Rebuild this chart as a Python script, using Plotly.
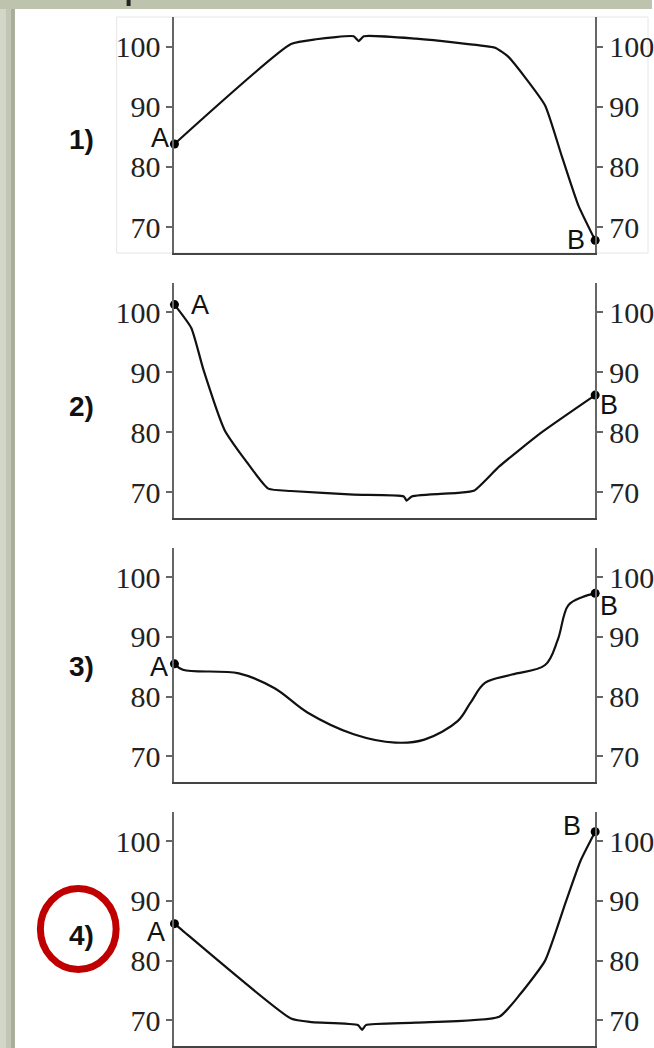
import plotly.graph_objects as go

# ---------------- data (position along profile in %, value) ----------------
p1_x = [0, 27.7, 33.7, 42.6, 43.8, 45.0, 57.4, 67.3, 76.2, 79.2, 83.2, 88.1, 92.1, 96.0, 100]
p1_y = [83.8, 100.4, 101.2, 101.7, 100.9, 101.7, 101.3, 100.6, 99.8, 98.4, 95.0, 90.2, 81.7, 73.6, 67.8]

p2_x = [0, 4.0, 6.9, 11.9, 16.8, 22.3, 27.7, 42.6, 54.5, 55.2, 56.4, 67.3, 71.3, 77.2, 87.1, 100]
p2_y = [101.3, 97.4, 90.4, 80.4, 75.4, 70.6, 70.2, 69.6, 69.3, 68.6, 69.3, 69.9, 70.3, 74.3, 79.9, 86.2]

p3_x = [0, 2.0, 15.3, 23.8, 31.7, 42.6, 52.5, 59.4, 67.3, 70.3, 73.8, 80.2, 88.1, 91.1, 93.6, 97.0, 100]
p3_y = [85.5, 84.5, 83.9, 81.4, 77.3, 73.7, 72.3, 72.8, 75.9, 78.9, 82.3, 83.7, 85.3, 89.5, 95.3, 96.7, 97.3]

p4_x = [0, 2.0, 27.7, 32.7, 43.6, 44.6, 45.5, 57.4, 77.2, 82.2, 88.1, 93.1, 96.5, 100]
p4_y = [86.2, 85.0, 70.3, 69.7, 69.2, 68.4, 69.2, 69.6, 70.6, 74.4, 80.0, 90.0, 96.7, 101.6]

panel_labels = ["1)", "2)", "3)", "4)"]
end_labels = ["A", "B"]
tick_vals = [70, 80, 90, 100]
y_range = [65.7, 104.9]

xs = [p1_x, p2_x, p3_x, p4_x]
ys = [p1_y, p2_y, p3_y, p4_y]

# ---------------- layout helpers ----------------
W, H = 654, 1048
def fx(p):
    return p / W
def fy(p):
    return 1 - p / H

panel_px = [(17, 253), (283, 518), (548, 782), (812, 1046)]
label_py = [139, 407, 666, 935]
x_dom = [fx(175), fx(597)]
smooth = [0.5, 0.5, 1.0, 0.5]

# A / B label placement: (xanchor, xshift, yshift)
a_pos = [("right", -3, 6), ("left", 15, 0), ("right", -4, -3), ("right", -7, -8)]
b_pos = [("right", -8, 0), ("left", 3, -10), ("left", 3, -13), ("right", -12, 6)]

tick_font = dict(family="Liberation Serif", size=30, color="#222")
txt_font = dict(family="Liberation Sans", size=27, color="#111")

fig = go.Figure()
layout = {}
annotations = []

for i in range(4):
    xa = "x" if i == 0 else f"x{i+1}"
    ya = "y" if i == 0 else f"y{i+1}"
    yr = f"y{i+5}"
    top, bot = panel_px[i]
    dom = [fy(bot), fy(top)]

    fig.add_trace(go.Scatter(
        x=xs[i], y=ys[i], xaxis=xa, yaxis=ya, mode="lines",
        line=dict(color="#111", width=2.2, shape="spline", smoothing=smooth[i]),
        hoverinfo="skip"))
    fig.add_trace(go.Scatter(
        x=[xs[i][0], xs[i][-1]], y=[ys[i][0], ys[i][-1]], xaxis=xa, yaxis=yr,
        mode="markers", marker=dict(size=9, color="#000"), cliponaxis=False,
        hoverinfo="skip"))

    xkey = "xaxis" if i == 0 else f"xaxis{i+1}"
    ykey = "yaxis" if i == 0 else f"yaxis{i+1}"
    rkey = f"yaxis{i+5}"
    layout[xkey] = dict(domain=x_dom, anchor=ya, range=[0, 100], showline=True,
                        linecolor="#444", linewidth=2, showticklabels=False,
                        ticks="", showgrid=False, zeroline=False, fixedrange=True)
    common_y = dict(range=y_range, tickvals=tick_vals, ticks="outside", ticklen=6,
                    tickwidth=1.5, tickcolor="#666", showline=True, linecolor="#666",
                    linewidth=2, showgrid=False, zeroline=False, tickfont=tick_font)
    layout[ykey] = dict(domain=dom, anchor=xa, side="left", **common_y)
    layout[rkey] = dict(overlaying=ya, anchor=xa, side="right", **common_y)

    # endpoint labels
    for j, (pos, idx) in enumerate(((a_pos[i], 0), (b_pos[i], -1))):
        anc, xs_, ys_ = pos
        annotations.append(dict(
            xref=xa, yref=ya, x=xs[i][idx], y=ys[i][idx], text=end_labels[j],
            showarrow=False, xanchor=anc, yanchor="middle", xshift=xs_, yshift=ys_,
            font=txt_font))
    # panel number
    annotations.append(dict(
        xref="paper", yref="paper", x=fx(82), y=fy(label_py[i]), text=f"<b>{panel_labels[i]}</b>",
        showarrow=False, xanchor="center", yanchor="middle",
        font=dict(family="Liberation Sans", size=28, color="#111")))

shapes = [
    # left decorative strip
    dict(type="rect", xref="paper", yref="paper", x0=0, x1=fx(6), y0=0, y1=1,
         fillcolor="#d2d7c8", line=dict(width=0), layer="below"),
    dict(type="rect", xref="paper", yref="paper", x0=fx(6), x1=fx(11), y0=0, y1=1,
         fillcolor="#c2c7b5", line=dict(width=0), layer="below"),
    dict(type="rect", xref="paper", yref="paper", x0=fx(11), x1=fx(15), y0=0, y1=1,
         fillcolor="#a9ae9b", line=dict(width=0), layer="below"),
    # top decorative strip
    dict(type="rect", xref="paper", yref="paper", x0=0, x1=1, y0=fy(9), y1=1,
         fillcolor="#bec3ae", line=dict(width=0), layer="below"),
    dict(type="rect", xref="paper", yref="paper", x0=fx(127), x1=fx(131), y0=fy(6), y1=1,
         fillcolor="#222", line=dict(width=0)),
    # faint frame around panel 1
    dict(type="rect", xref="paper", yref="paper", x0=fx(117), x1=fx(650), y0=fy(253), y1=fy(17),
         line=dict(color="#e6e6e6", width=1), layer="below"),
    # red ellipse around "4)"
    dict(type="circle", xref="paper", yref="paper", x0=fx(40.5), x1=fx(116.5),
         y0=fy(969.5), y1=fy(888.5), line=dict(color="#c00000", width=7)),
]

fig.update_layout(
    width=W, height=H, margin=dict(l=0, r=0, t=0, b=0),
    paper_bgcolor="white", plot_bgcolor="rgba(0,0,0,0)", showlegend=False,
    annotations=annotations, shapes=shapes, **layout)

fig.write_html("out.html", config={"displayModeBar": False},
               post_script="document.body.style.margin='0';document.body.style.overflow='hidden';")
